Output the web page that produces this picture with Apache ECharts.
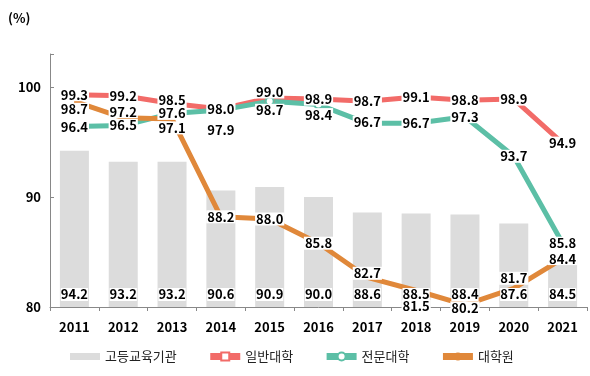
<!DOCTYPE html>
<html>
<head>
<meta charset="utf-8">
<script src="https://cdn.jsdelivr.net/npm/echarts@6/dist/echarts.min.js"></script>
<style>
  html, body { margin: 0; padding: 0; background: #fff; }
  #chart { width: 590px; height: 376px; }
</style>
</head>
<body>
<div id="chart"></div>
<script>
// 연도
var years = ['2011', '2012', '2013', '2014', '2015', '2016', '2017', '2018', '2019', '2020', '2021']

// 고등교육기관 (막대)
var total = [94.2, 93.2, 93.2, 90.6, 90.9, 90.0, 88.6, 88.5, 88.4, 87.6, 84.5]
// 일반대학
var univ = [99.3, 99.2, 98.5, 98.0, 99.0, 98.9, 98.7, 99.1, 98.8, 98.9, 94.9]
// 전문대학
var college = [96.4, 96.5, 97.6, 97.9, 98.7, 98.4, 96.7, 96.7, 97.3, 93.7, 85.8]
// 대학원
var grad = [98.7, 97.2, 97.1, 88.2, 88.0, 85.8, 82.7, 81.5, 80.2, 81.7, 84.4]

var yTicks = [80, 90, 100]

// 라벨 세로 위치 보정 (겹침 방지)
var univOff = [0, 0, -3, 0, -6, 0, 0, 0, 0, 0, 0]
var collegeOff = [0, 0, 0, 20, 9, 10, -1, 0, 0, 0, 0]
var gradOff = [8, -6, 9, 0, 0, 0, -4, 16, 3, -10, 0]

var RED = '#F26B68'
var TEAL = '#5CBFA6'
var ORANGE = '#E0883A'
var GRAY = '#DCDCDC'

var labelFont = 'Noto Sans CJK KR'

function lineData(vals, offs) {
	return vals.map(function (v, i) {
		return {
			value: v,
			label: { offset: [0, offs[i]] }
		}
	})
}

function numLabel(pos) {
	return {
		show: true,
		position: pos,
		color: '#000',
		fontFamily: labelFont,
		fontWeight: 'bold',
		fontSize: 13,
		backgroundColor: '#fff',
		padding: [0, 1],
		formatter: function (p) { return p.value.toFixed(1) }
	}
}

var chart = echarts.init(document.getElementById('chart'), null, { renderer: 'canvas' })

var option = {}
option.animation = false

option.grid = {
	left: 50,
	right: 3,
	top: 54,
	bottom: 69
}

option.graphic = [{
	type: 'text',
	left: 8,
	top: 12,
	style: {
		text: '(%)',
		fill: '#000',
		font: 'bold 13px "Noto Sans CJK KR"'
	}
}]

option.legend = {
	bottom: 8,
	left: 65,
	itemWidth: 30,
	itemHeight: 10,
	itemGap: 30,
	textStyle: { fontFamily: labelFont, fontSize: 13, color: '#222' },
	data: [
		{ name: '고등교육기관', icon: 'path://M0,0h30v7h-30z' },
		{ name: '일반대학', lineStyle: { width: 7 } },
		{ name: '전문대학', lineStyle: { width: 7 } },
		{ name: '대학원', lineStyle: { width: 7 } }
	]
}

option.xAxis = {
	type: 'category',
	data: years,
	axisLine: { lineStyle: { color: '#888' } },
	axisTick: { show: true, length: 4, lineStyle: { color: '#888' } },
	axisLabel: {
		color: '#000',
		fontFamily: labelFont,
		fontWeight: 'bold',
		fontSize: 13,
		margin: 14
	}
}

option.yAxis = {
	type: 'value',
	min: 80,
	max: 103,
	interval: 10,
	axisLine: { show: true, lineStyle: { color: '#888' } },
	axisTick: { show: true, inside: true, length: 4, lineStyle: { color: '#888' } },
	splitLine: { show: false },
	axisLabel: {
		color: '#000',
		fontFamily: labelFont,
		fontWeight: 'bold',
		fontSize: 13,
		margin: 9,
		formatter: function (v) { return yTicks.indexOf(v) >= 0 ? v : '' }
	}
}

var barLabel = numLabel('insideBottom')
barLabel.distance = 6
barLabel.padding = [0, 0]

option.series = [{
	name: '고등교육기관',
	type: 'bar',
	data: total,
	barWidth: 29,
	itemStyle: { color: GRAY },
	z: 1
}, {
	name: '일반대학',
	type: 'line',
	data: lineData(univ, univOff),
	symbol: 'rect',
	symbolSize: 8,
	itemStyle: { color: '#fff', borderColor: RED, borderWidth: 2 },
	lineStyle: { color: RED, width: 5 },
	label: numLabel('inside'),
	z: 3
}, {
	name: '전문대학',
	type: 'line',
	data: lineData(college, collegeOff),
	symbol: 'circle',
	symbolSize: 8,
	itemStyle: { color: '#fff', borderColor: TEAL, borderWidth: 2 },
	lineStyle: { color: TEAL, width: 5 },
	label: numLabel('inside'),
	z: 3
}, {
	name: '대학원',
	type: 'line',
	data: lineData(grad, gradOff),
	symbol: 'circle',
	symbolSize: 1,
	itemStyle: { color: ORANGE },
	lineStyle: { color: ORANGE, width: 5 },
	label: numLabel('inside'),
	z: 3
}, {
	// 막대 라벨만 위에 그리기
	name: '고등교육기관',
	type: 'bar',
	data: total,
	barWidth: 29,
	barGap: '-100%',
	itemStyle: { color: 'rgba(0,0,0,0)' },
	label: barLabel,
	tooltip: { show: false },
	z: 10
}]

chart.setOption(option)
</script>
</body>
</html>
